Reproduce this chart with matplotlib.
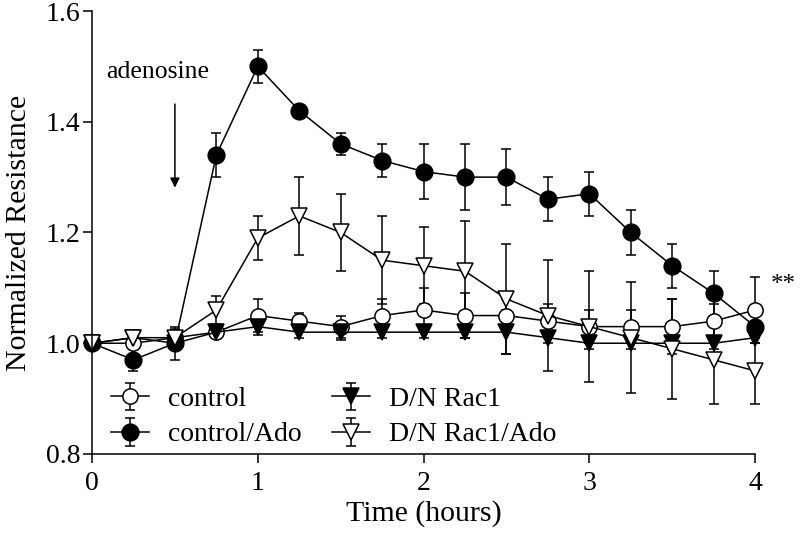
import matplotlib
matplotlib.use("Agg")
import matplotlib.pyplot as plt

time_h = [0, 0.25, 0.5, 0.75, 1.0, 1.25, 1.5, 1.75, 2.0, 2.25, 2.5, 2.75, 3.0, 3.25, 3.5, 3.75, 4.0]

control = [1.00, 1.00, 1.01, 1.02, 1.05, 1.04, 1.03, 1.05, 1.06, 1.05, 1.05, 1.04, 1.03, 1.03, 1.03, 1.04, 1.06]
control_err = [0, 0.01, 0.015, 0.01, 0.03, 0.015, 0.02, 0.03, 0.04, 0.04, 0.03, 0.03, 0.03, 0.03, 0.05, 0.03, 0.06]

control_ado = [1.00, 0.97, 1.00, 1.34, 1.50, 1.42, 1.36, 1.33, 1.31, 1.30, 1.30, 1.26, 1.27, 1.20, 1.14, 1.09, 1.03]
control_ado_err = [0, 0.02, 0.03, 0.04, 0.03, 0.005, 0.02, 0.03, 0.05, 0.06, 0.05, 0.04, 0.04, 0.04, 0.04, 0.04, 0.01]

dn_rac1 = [1.00, 1.01, 1.00, 1.02, 1.03, 1.02, 1.02, 1.02, 1.02, 1.02, 1.02, 1.01, 1.00, 1.00, 1.00, 1.00, 1.01]
dn_rac1_err = [0, 0.01, 0.01, 0.01, 0.015, 0.01, 0.015, 0.01, 0.01, 0.01, 0.04, 0.01, 0.01, 0.01, 0.01, 0.01, 0.01]

dn_rac1_ado = [1.00, 1.01, 1.01, 1.06, 1.19, 1.23, 1.20, 1.15, 1.14, 1.13, 1.08, 1.05, 1.03, 1.01, 0.99, 0.97, 0.95]
dn_rac1_ado_err = [0, 0.01, 0.01, 0.025, 0.04, 0.07, 0.07, 0.08, 0.07, 0.09, 0.10, 0.10, 0.10, 0.10, 0.09, 0.08, 0.06]

labels = ["control", "control/Ado", "D/N Rac1", "D/N Rac1/Ado"]
x_ticks = [0, 1, 2, 3, 4]
y_ticks = [0.8, 1.0, 1.2, 1.4, 1.6]

plt.rcParams['font.family'] = ['Liberation Serif', 'DejaVu Serif']

fig = plt.figure(figsize=(8, 5.4), dpi=100)
ax = fig.add_axes([0.115, 0.1593, 0.829, 0.8203])

series = [
    (control, control_err, 'o', 'white', 11),
    (control_ado, control_ado_err, 'o', 'black', 12),
    (dn_rac1, dn_rac1_err, 'v', 'black', 12),
    (dn_rac1_ado, dn_rac1_ado_err, 'v', 'white', 12),
]
for (vals, errs, mk, fc, ms), lab in zip(series, labels):
    eb = ax.errorbar(time_h, vals, yerr=errs, color='black', lw=1.1, elinewidth=1.1,
                     capsize=3.6, capthick=1.1, marker=mk, markersize=ms,
                     markerfacecolor=fc, markeredgecolor='black', markeredgewidth=1.1,
                     clip_on=False, label=lab)
    for child in eb.get_children():
        child.set_clip_on(False)

ax.set_xlim(0, 4)
ax.set_ylim(0.8, 1.6)
ax.set_xticks(x_ticks)
ax.set_xticklabels([str(v) for v in x_ticks])
ax.set_yticks(y_ticks)
ax.set_yticklabels([f"{v:.1f}" for v in y_ticks])
for s in ['top', 'right']:
    ax.spines[s].set_visible(False)
for s in ['left', 'bottom']:
    ax.spines[s].set_linewidth(1.1)
ax.tick_params(direction='out', length=6.5, width=1.1, labelsize=20)
ax.tick_params(axis='y', pad=2)
ax.tick_params(axis='x', pad=6)

ax.set_xlabel("Time (hours)", fontsize=21.5, labelpad=3)
ax.set_ylabel("Normalized Resistance", fontsize=21.5, labelpad=10)

ax.annotate("", xy=(0.5, 1.276), xytext=(0.5, 1.437),
            arrowprops=dict(arrowstyle='-|>', color='black', lw=1.1, mutation_scale=14))
ax.text(0.395, 1.49, "adenosine", fontsize=18.5, ha='center', va='center')
ax.text(4.17, 1.105, "**", fontsize=18, ha='center', va='center', clip_on=False)

leg = ax.legend(ncol=2, loc='lower left', bbox_to_anchor=(0.028, 0.015), frameon=False,
                fontsize=20, handlelength=1.37, handletextpad=0.68, columnspacing=1.1,
                labelspacing=0.35, borderaxespad=0, borderpad=0)

fig.savefig("out.png", dpi=100)
